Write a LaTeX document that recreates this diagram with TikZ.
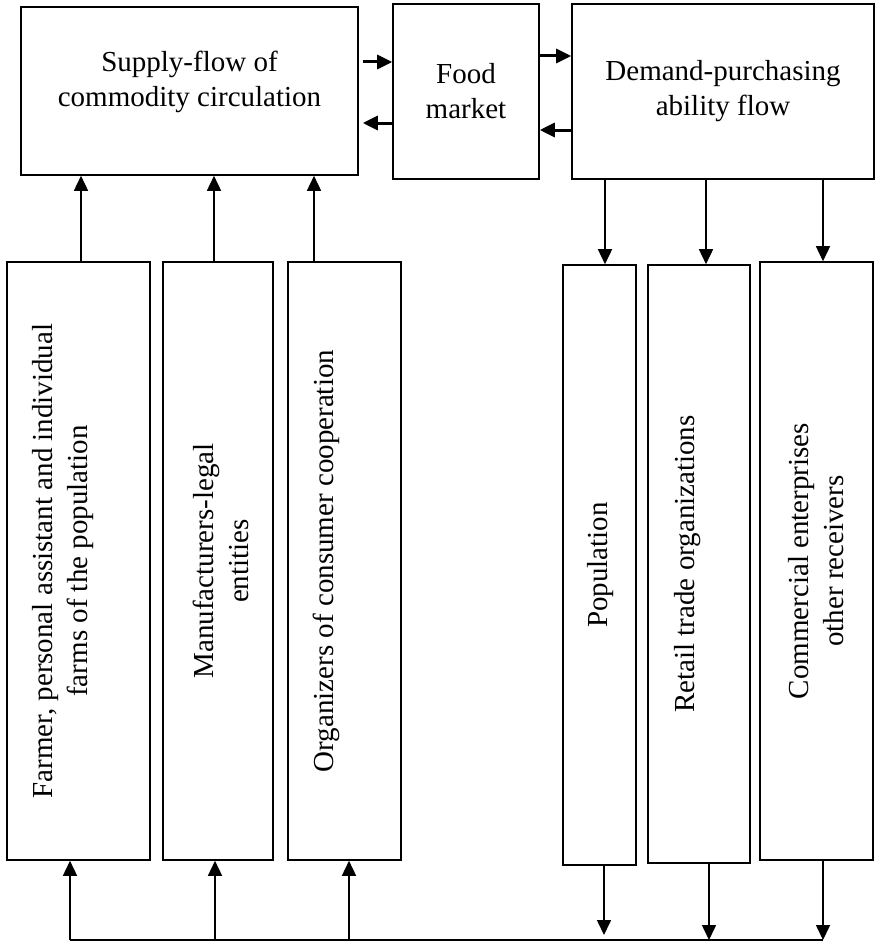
\documentclass[tikz,border=0pt]{standalone}
\usepackage{fontspec}
\setmainfont{Liberation Serif}
\usetikzlibrary{arrows.meta,positioning,calc}

\begin{document}
\begin{tikzpicture}[x=1pt, y=-1pt, >={Triangle[length=15pt,width=14pt]},
    font=\fontsize{29pt}{35pt}\selectfont,
    box/.style={draw, line width=1.6pt, inner sep=0pt, align=center},
    vlabel/.style={rotate=90, align=center, inner sep=0pt},
    arr/.style={->, line width=1.6pt},
    harr/.style={->, line width=3pt}]
      \useasboundingbox (0,0) rectangle (875,942);
      % top row
      \node[box, minimum width=337pt, minimum height=168pt, text depth=24pt] (supply) at (189.5,91) {Supply-flow of\\commodity circulation};
      \node[box, minimum width=146pt, minimum height=175pt] (food) at (466,91.5) {Food\\market};
      \node[box, minimum width=302pt, minimum height=175pt] (demand) at (723,91.5) {Demand-purchasing\\ability flow};
      \draw[harr] ([xshift=4pt,yshift=29pt]supply.east) -- ([yshift=29pt]supply.east -| food.west);
      \draw[harr] ([yshift=-32pt]supply.east -| food.west) -- ([xshift=4pt,yshift=-32pt]supply.east);
      \draw[harr] ([yshift=35.5pt]food.east) -- ([yshift=35.5pt]food.east -| demand.west);
      \draw[harr] ([yshift=-38.5pt]food.east -| demand.west) -- ([yshift=-38.5pt]food.east);
      % suppliers
      \node[box, minimum width=143pt, minimum height=598pt] (farm) at (78.5,561) {};
      \node[box, minimum width=110pt, minimum height=598pt] (manuf) at (218,561) {};
      \node[box, minimum width=113pt, minimum height=598pt] (coop) at (344.5,561) {};
      \node[vlabel] (farmtext) at ([xshift=-15.5pt]farm.center) {Farmer, personal assistant and individual\\farms of the population};
      \node[vlabel] (manuftext) at ([xshift=3pt]manuf.center) {Manufacturers-legal\\entities};
      \node[vlabel] (cooptext) at ([xshift=-18.5pt]coop.center) {Organizers of consumer cooperation};
      \draw[arr] ([xshift=2.5pt]farm.north) -- ([xshift=2.5pt]farm.north |- supply.south);
      \draw[arr] ([xshift=-4pt]manuf.north) -- ([xshift=-4pt]manuf.north |- supply.south);
      \draw[arr] ([xshift=-30.5pt]coop.north) -- ([xshift=-30.5pt]coop.north |- supply.south);
      % receivers
      \node[box, minimum width=73pt, minimum height=600pt] (popul) at (599.5,565) {};
      \node[box, minimum width=102pt, minimum height=598pt] (retail) at (699,564) {};
      \node[box, minimum width=113pt, minimum height=598pt] (comm) at (816.5,561) {};
      \node[vlabel] (popultext) at ([xshift=1.5pt]popul.center) {Population};
      \node[vlabel] (retailtext) at ([xshift=-11pt]retail.center) {Retail trade organizations};
      \node[vlabel] (commtext) at (comm.center) {Commercial enterprises\\other receivers};
      \draw[arr] ([xshift=5.5pt]popul.north |- demand.south) -- ([xshift=5.5pt]popul.north);
      \draw[arr] ([xshift=7pt]retail.north |- demand.south) -- ([xshift=7pt]retail.north);
      \draw[arr] ([xshift=6.5pt]comm.north |- demand.south) -- ([xshift=6.5pt]comm.north);
      % bottom line
      \coordinate (busL) at (70,940);
      \coordinate (busR) at (823,940);
      \draw[line width=1.6pt] (busL) -- (busR);
      \draw[arr] ([xshift=-8.5pt]farm.south |- busL) -- ([xshift=-8.5pt]farm.south);
      \draw[arr] ([xshift=-3pt]manuf.south |- busL) -- ([xshift=-3pt]manuf.south);
      \draw[arr] ([xshift=4.5pt]coop.south |- busL) -- ([xshift=4.5pt]coop.south);
      \draw[arr] ([xshift=4.5pt]popul.south) -- ([xshift=4.5pt,yshift=5pt]popul.south |- busL);
      \draw[arr] ([xshift=10pt]retail.south) -- ([xshift=10pt]retail.south |- busL);
      \draw[arr] ([xshift=6.5pt]comm.south) -- ([xshift=6.5pt]comm.south |- busL);
    \end{tikzpicture}
\end{document}
